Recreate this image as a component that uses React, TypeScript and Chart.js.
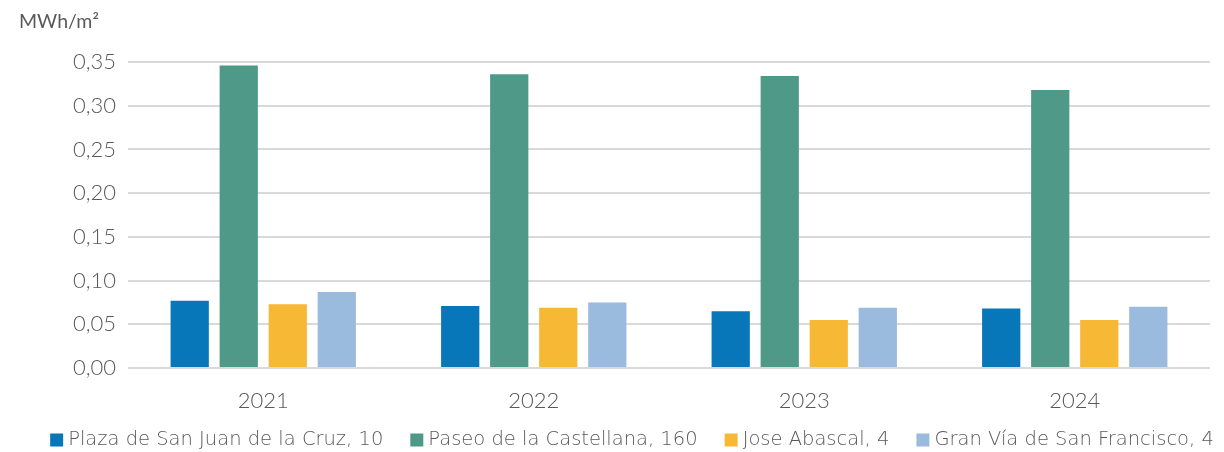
import React, { useEffect, useRef } from "react";
import { Chart, registerables } from "chart.js";

Chart.register(...registerables);

const categories = ["2021", "2022", "2023", "2024"];
const seriesNames = [
  "Plaza de San Juan de la Cruz, 10",
  "Paseo de la Castellana, 160",
  "Jose Abascal, 4",
  "Gran Vía de San Francisco, 4",
];
const plazaValues = [0.077, 0.071, 0.065, 0.068];
const castellanaValues = [0.346, 0.336, 0.334, 0.318];
const abascalValues = [0.073, 0.069, 0.055, 0.055];
const granViaValues = [0.087, 0.075, 0.069, 0.070];
const seriesColors = ["#0777BA", "#4E9988", "#F7B835", "#9ABADE"];
const yTicks = [0, 0.05, 0.1, 0.15, 0.2, 0.25, 0.3, 0.35];
const unitLabel = "MWh/m²";

const FONT = "Lato";
const LEGEND_FONT = "200 19.5px 'DejaVu Sans'";
const TEXT = "#595959";

const unitPlugin = {
  id: "unitLabel",
  afterDraw(chart: any) {
    const ctx = chart.ctx;
    ctx.save();
    ctx.font = `400 19.5px ${FONT}`;
    ctx.fillStyle = TEXT;
    ctx.textAlign = "left";
    ctx.textBaseline = "middle";
    ctx.fillText(unitLabel, 19, 22);
    ctx.restore();
  },
};

const legendPlugin = {
  id: "customLegend",
  afterDraw(chart: any) {
    const ctx = chart.ctx;
    ctx.save();
    ctx.font = LEGEND_FONT;
    const box = 13;
    const gap = 5;
    const spacing = 27;
    const items = chart.data.datasets.map((d: any) => ({
      label: d.label as string,
      color: d.backgroundColor as string,
      w: ctx.measureText(d.label).width,
    }));
    const total =
      items.reduce((a: number, it: any) => a + box + gap + it.w, 0) +
      spacing * (items.length - 1);
    let x = 632 - total / 2;
    const y = 440;
    ctx.textAlign = "left";
    ctx.textBaseline = "middle";
    for (const it of items) {
      ctx.fillStyle = it.color;
      ctx.fillRect(x, y - box / 2, box, box);
      x += box + gap;
      ctx.fillStyle = TEXT;
      ctx.fillText(it.label, x, y);
      x += it.w + spacing;
    }
    ctx.restore();
  },
};

export default function App() {
  const ref = useRef<HTMLCanvasElement>(null);
  useEffect(() => {
    document.body.style.margin = "0";
    const values = [plazaValues, castellanaValues, abascalValues, granViaValues];
    const chart = new Chart(ref.current!, {
      type: "bar",
      data: {
        labels: categories,
        datasets: seriesNames.map((name, i) => ({
          label: name,
          data: values[i],
          backgroundColor: seriesColors[i],
          borderWidth: 0,
          categoryPercentage: 0.725,
          barPercentage: 0.78,
        })),
      },
      plugins: [unitPlugin, legendPlugin],
      options: {
        animation: false,
        responsive: false,
        layout: { padding: { top: 62, right: 14, left: 0, bottom: 0 } },
        plugins: {
          tooltip: { enabled: false },
          legend: { display: false },
        },
        scales: {
          x: {
            afterFit: (s: any) => {
              s.height = 84;
            },
            grid: { display: false, drawTicks: false },
            border: { display: false },
            ticks: {
              color: TEXT,
              font: { family: FONT, size: 22, weight: 300 },
              padding: 20,
            },
          },
          y: {
            min: 0,
            max: 0.35,
            afterFit: (s: any) => {
              s.width = 128;
            },
            afterBuildTicks: (s: any) => {
              s.ticks = yTicks.map((v) => ({ value: v }));
            },
            grid: { color: "#D9D9D9", lineWidth: 2, drawTicks: false },
            border: { display: false },
            ticks: {
              color: TEXT,
              font: { family: FONT, size: 22, weight: 300 },
              padding: 12,
              callback: (v: any) => Number(v).toFixed(2).replace(".", ","),
            },
          },
        },
      },
    });
    return () => chart.destroy();
  }, []);
  return (
    <div style={{ width: 1224, height: 452 }}>
      <canvas ref={ref} width={1224} height={452} />
    </div>
  );
}
